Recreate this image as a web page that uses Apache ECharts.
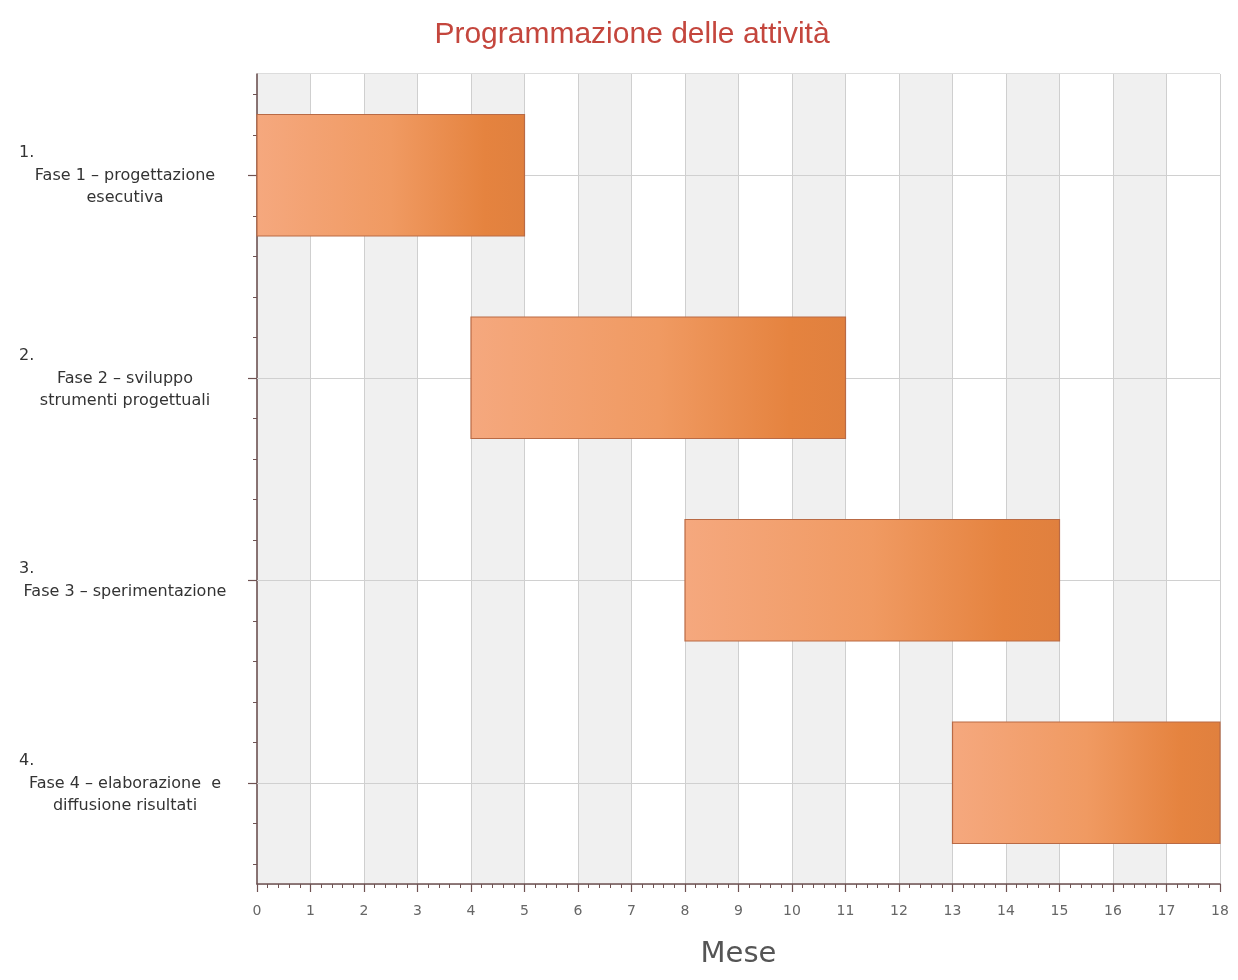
<!DOCTYPE html>
<html>
<head>
<meta charset="utf-8">
<script src="https://cdn.jsdelivr.net/npm/echarts@6/dist/echarts.min.js"></script>
<style>html,body{margin:0;padding:0;background:#fff}#chart{width:1238px;height:980px}</style>
</head>
<body>
<div id="chart"></div>
<script>
// ---- data ----
var phaseNumbers = ['1.', '2.', '3.', '4.'];
var phaseNames = [
  'Fase 1 – progettazione\nesecutiva',
  'Fase 2 – sviluppo\nstrumenti progettuali',
  'Fase 3 – sperimentazione',
  'Fase 4 – elaborazione  e\ndiffusione risultati'
];
var phaseStart = [0, 4, 8, 13];
var phaseEnd = [5, 11, 15, 18];
var monthTicks = [0, 18, 1]; // min, max, interval
var titleText = 'Programmazione delle attività';
var xAxisName = 'Mese';

var ganttData = phaseStart.map(function (s, i) { return [i, s, phaseEnd[i]]; });
var subBands = [];
for (var i = 0; i < phaseNames.length * 5; i++) subBands.push(String(i));

var chart = echarts.init(document.getElementById('chart'));
var option = {
  backgroundColor: '#ffffff',
  animation: false,
  title: {
    text: titleText,
    left: 627, top: 15, textAlign: 'center',
    textStyle: { color: '#c4463d', fontFamily: 'Liberation Sans, Arial, sans-serif', fontSize: 30, fontWeight: 'normal' }
  },
  grid: {
    left: 257, right: 18, top: 74, bottom: 96,
    show: true, borderColor: '#b8b8b8', borderWidth: 1, backgroundColor: 'transparent'
  },
  xAxis: {
    type: 'value', min: monthTicks[0], max: monthTicks[1], interval: monthTicks[2],
    name: xAxisName, nameLocation: 'middle', nameGap: 56,
    nameTextStyle: { color: '#555', fontFamily: 'DejaVu Sans, sans-serif', fontSize: 29 },
    axisLine: { show: true, lineStyle: { color: '#6e5252', width: 1.5 } },
    axisTick: { show: true, length: 8, lineStyle: { color: '#6e5252', width: 1.2 } },
    minorTick: { show: true, splitNumber: 5, length: 4, lineStyle: { color: '#6e5252', width: 1 } },
    axisLabel: { color: '#666', fontFamily: 'DejaVu Sans, sans-serif', fontSize: 14, margin: 20 },
    splitLine: { show: true, lineStyle: { color: '#cfcfcf', width: 1 } },
    splitArea: { show: true, areaStyle: { color: ['#f0f0f0', '#ffffff'] } }
  },
  yAxis: [{
    type: 'category', data: phaseNames, inverse: true, boundaryGap: true,
    axisLine: { show: true, lineStyle: { color: '#6e5252', width: 1.5 } },
    axisTick: { show: true, alignWithLabel: true, length: 9, lineStyle: { color: '#6e5252', width: 1.2 } },
    splitLine: { show: false },
    axisLabel: {
      margin: 26,
      formatter: function (val, idx) {
        var lines = val.split('\n');
        var s = '{n|' + phaseNumbers[idx] + '}';
        lines.forEach(function (l) { s += '\n{t|' + l + '}'; });
        return s;
      },
      rich: {
        n: { width: 212, align: 'left', fontFamily: 'DejaVu Sans, sans-serif', fontSize: 16, color: '#333', lineHeight: 24 },
        t: { width: 212, align: 'center', fontFamily: 'DejaVu Sans, sans-serif', fontSize: 16, color: '#333', lineHeight: 22 }
      }
    }
  }, {
    type: 'category', data: subBands, inverse: true, boundaryGap: true, position: 'left',
    axisLine: { show: false },
    axisTick: { show: true, alignWithLabel: true, length: 4, lineStyle: { color: '#6e5252', width: 1 } },
    axisLabel: { show: false },
    splitLine: { show: false }
  }],
  series: [{
    type: 'custom',
    yAxisIndex: 0,
    encode: { x: [1, 2], y: 0 },
    data: ganttData,
    z: 3,
    renderItem: function (params, api) {
      var cat = api.value(0);
      var p0 = api.coord([api.value(1), cat]);
      var p1 = api.coord([api.value(2), cat]);
      var h = api.size([0, 1])[1] * 0.6;
      return {
        type: 'rect',
        shape: { x: p0[0], y: p0[1] - h / 2, width: p1[0] - p0[0], height: h },
        style: {
          fill: new echarts.graphic.LinearGradient(0, 0, 1, 0, [
            { offset: 0, color: '#f5a87e' },
            { offset: 0.5, color: '#f09a62' },
            { offset: 0.85, color: '#e5833f' },
            { offset: 1, color: '#e0803e' }
          ]),
          stroke: '#b96a45', lineWidth: 1.2
        }
      };
    },
    markLine: {
      silent: true, symbol: 'none', z: 1, animation: false,
      label: { show: false },
      lineStyle: { color: '#d0d0d0', width: 1, type: 'solid' },
      data: phaseNames.map(function (n) { return { yAxis: n }; })
    }
  }]
};
chart.setOption(option);
</script>
</body>
</html>
